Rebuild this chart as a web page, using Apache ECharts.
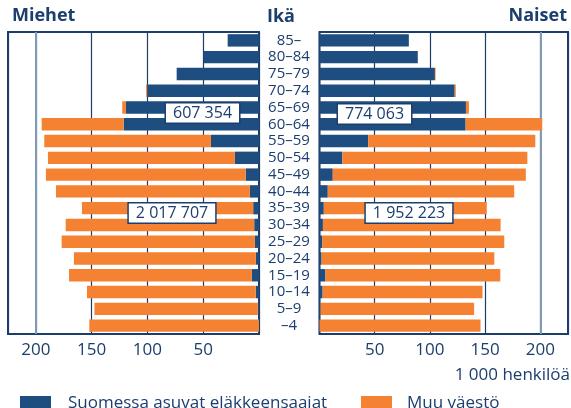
<!DOCTYPE html>
<html><head><meta charset="utf-8">
<script src="https://cdn.jsdelivr.net/npm/echarts@6/dist/echarts.min.js"></script>
<style>html,body{margin:0;padding:0;background:#fff}#c{width:571px;height:408px}</style>
</head><body><div id="c"></div>
<script>
const ages = ['85–','80–84','75–79','70–74','65–69','60–64','55–59','50–54','45–49','40–44','35–39','30–34','25–29','20–24','15–19','10–14','5–9','–4'];
const menPension = [28.1,49.4,73.8,100.2,119.3,121.3,43.1,21.6,12.0,8.2,5.2,4.3,3.7,2.8,6.4,3.0,1.0,0];
const menOther   = [0,0,0,1.0,3.3,73.5,149.4,167.6,179.0,173.8,153.5,169.0,173.2,163.1,163.9,151.2,146.5,152.1];
const womenPension = [80.9,89.0,104.5,122.4,132.6,132.3,44.1,20.7,12.0,7.5,3.9,3.1,2.4,1.9,5.4,2.8,1.0,0];
const womenOther   = [0,0,0.6,1.0,2.7,69.4,151.3,167.5,174.8,168.8,147.5,160.9,164.9,156.4,158.3,144.8,139.0,145.8];
const totals = {menPension:'607 354', womenPension:'774 063', menOther:'2 017 707', womenOther:'1 952 223'};
const seriesNames = ['Suomessa asuvat eläkkeensaajat','Muu väestö'];

const NAVY = '#1b3e6d', BLUE = '#1e4d7f', ORANGE = '#f58232', FONT = '"Open Sans", "Noto Sans", sans-serif';
const chart = echarts.init(document.getElementById('c'));
function xAx(idx, inverse){
  return {type:'value', gridIndex:idx, inverse, min:0, max:225, interval:50,
    axisLine:{show:false}, axisTick:{show:false},
    axisLabel:{color:NAVY, fontSize:17, fontFamily:FONT, margin:8, formatter:v => (v===0||v>200)?'':String(v)},
    splitLine:{show:true, lineStyle:{color:NAVY, width:1.2}}};
}
function xAx200(idx, inverse){
  return {type:'value', gridIndex:idx, inverse, min:0, max:225, interval:200,
    axisLine:{show:false}, axisTick:{show:false}, axisLabel:{show:false},
    splitLine:{show:true, showMinLine:false, showMaxLine:false, lineStyle:{color:'#8099b5', width:2}}};
}
function yAx(idx, showLabel){
  return {type:'category', gridIndex:idx, data:ages, inverse:true, position: idx===0?'right':'left',
    axisLine:{show:false}, axisTick:{show:false},
    axisLabel:{show:showLabel, interval:0, color:NAVY, fontSize:15, fontFamily:FONT, align:'center', margin:30},
    splitLine:{show:false}};
}
function bar(name, data, idx, color){
  return {type:'bar', name, data, xAxisIndex:idx, yAxisIndex:idx, stack:'s'+idx, barWidth:'74%',
    itemStyle:{color}, silent:true, animation:false};
}
function box(text, cx, cy){
  return {type:'text', x:cx, y:cy, style:{text, fill:NAVY, font:'16px '+FONT, align:'center', verticalAlign:'middle',
    backgroundColor:'#fff', borderColor:NAVY, borderWidth:1.5, padding:[2,7,1,7]}, z:100};
}
chart.setOption({
  animation:false,
  grid:[
    {left:8, top:32, width:251, height:302, show:true, borderColor:NAVY, borderWidth:2, backgroundColor:'transparent'},
    {left:319.5, top:32, width:250, height:302, show:true, borderColor:NAVY, borderWidth:2, backgroundColor:'transparent'}
  ],
  xAxis:[xAx(0,true), xAx(1,false), xAx200(0,true), xAx200(1,false)],
  yAxis:[yAx(0,true), yAx(1,false)],
  legend:[
    {data:[seriesNames[0]], left:20, top:395, padding:0, itemWidth:31, itemHeight:15, icon:'rect',
      textStyle:{color:NAVY, fontSize:17, fontFamily:FONT, padding:[0,0,7,12]}},
    {data:[seriesNames[1]], left:361, top:395, padding:0, itemWidth:31, itemHeight:15, icon:'rect',
      textStyle:{color:NAVY, fontSize:17, fontFamily:FONT, padding:[0,0,7,10]}}
  ],
  series:[
    bar(seriesNames[0], menPension, 0, BLUE),
    bar(seriesNames[1], menOther, 0, ORANGE),
    bar(seriesNames[0], womenPension, 1, BLUE),
    bar(seriesNames[1], womenOther, 1, ORANGE)
  ],
  graphic:[
    {type:'text', left:12, top:7, style:{text:'Miehet', fill:NAVY, font:'bold 18px '+FONT}},
    {type:'text', x:281, y:17, style:{text:'Ikä', fill:NAVY, font:'bold 18px '+FONT, align:'center', verticalAlign:'middle'}},
    {type:'text', right:4, top:7, style:{text:'Naiset', fill:NAVY, font:'bold 18px '+FONT}},
    {type:'text', right:1, top:367, style:{text:'1 000 henkilöä', fill:NAVY, font:'17px '+FONT}},
    box(totals.menPension, 202.5, 113),
    box(totals.womenPension, 374.5, 114),
    box(totals.menOther, 172, 213),
    box(totals.womenOther, 409, 213)
  ]
});
</script></body></html>
